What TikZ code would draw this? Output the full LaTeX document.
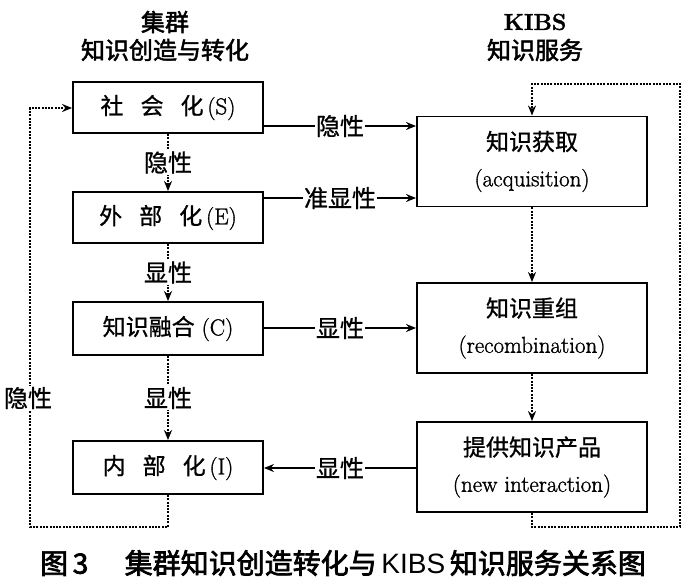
\documentclass[tikz,border=0pt]{standalone}
\usepackage{fontspec}
\setmainfont{Latin Modern Roman}[FakeBold=1.3]
\newfontfamily\cjk[FakeBold=0.9]{Noto Sans CJK SC}
\newfontfamily\cjkb[FakeBold=2]{Noto Sans CJK SC}
\newfontfamily\cjkbb[FakeBold=2.5]{Noto Sans CJK SC}
\newfontfamily\capsans{Liberation Sans}
\usetikzlibrary{arrows.meta}
\newcommand{\zh}[1]{{\cjk #1}}
\newcommand{\gap}{\hspace{17pt}}
\begin{document}
\begin{tikzpicture}[x=1pt,y=-1pt,
  box/.style={draw,line width=1.9pt,minimum width=190pt,minimum height=51pt,inner sep=0pt,font=\fontsize{23}{26}\selectfont},
  rbox/.style={draw,line width=1.9pt,minimum width=230pt,minimum height=90pt,inner sep=0pt,align=center,font=\fontsize{23}{36}\selectfont},
  solidarr/.style={line width=1.5pt,-{Stealth[length=10pt,width=8pt]}},
  dotarr/.style={line width=2.4pt,dash pattern=on 2pt off 1.3pt,-{Stealth[length=10pt,width=8pt]}},
  lab/.style={fill=white,inner sep=1pt,font=\fontsize{24}{26}\selectfont\cjk},
  ttl/.style={font=\fontsize{24}{26}\selectfont\cjkb}]
\useasboundingbox (0,0) rectangle (700,583);
\fill[white] (0,0) rectangle (700,583);
% titles
\node[ttl] (t1) at (165,22) {集群};
\node[ttl] (t2) at (165,50) {知识创造与转化};
\node[font=\fontsize{23}{26}\selectfont\bfseries] (t3) at (535,22) {KIBS};
\node[ttl] (t4) at (535,50) {知识服务};
% left boxes
\node[box] (S) at (168,107.5) {\zh{社\gap 会\gap 化}\,(S)};
\node[box] (E) at (168,217.5) {\zh{外\gap 部\gap 化}\,(E)};
\node[box,minimum height=53pt] (C) at (168,328.5) {\zh{知识融合}\ (C)};
\node[box,minimum height=53pt] (I) at (168,467.5) {\zh{内\gap 部\gap 化}\,(I)};
% right boxes
\node[rbox] (A) at (532,161.5) {\zh{知识获取}\\(acquisition)};
\node[rbox] (R) at (532,328) {\zh{知识重组}\\(recombination)};
\node[rbox] (P) at (532,467) {\zh{提供知识产品}\\(new interaction)};
% horizontal arrows
\draw[solidarr] (S.east |- 0,126) -- node[lab] {隐性} (A.west |- 0,126);
\draw[solidarr] (E.east |- 0,198) -- node[lab] {准显性} (A.west |- 0,198);
\draw[solidarr] (C.east |- 0,328) -- node[lab] {显性} (R.west |- 0,328);
\draw[solidarr] (P.west |- 0,468) -- node[lab] {显性} (I.east |- 0,468);
% vertical dotted arrows
\draw[dotarr] (S.south) -- node[lab] {隐性} (E.north);
\draw[dotarr] (E.south) -- node[lab] {显性} (C.north);
\draw[dotarr] (C.south) -- node[lab] {显性} (I.north);
\draw[dotarr] (A.south) -- (R.north);
\draw[dotarr] (R.south) -- (P.north);
% loops
\coordinate (l1) at (168,527);
\coordinate (l2) at (30,527);
\coordinate (l3) at (30,108);
\draw[dotarr] (I.south) -- (l1) -- (l2) -- (l3) -- (S.west |- l3);
\node[lab] (hx) at (28,398) {隐性};
\coordinate (r1) at (532,527);
\coordinate (r2) at (680,527);
\coordinate (r3) at (680,84);
\coordinate (r4) at (532,84);
\draw[dotarr] (P.south) -- (r1) -- (r2) -- (r3) -- (r4) -- (A.north);
% caption
\node[font=\fontsize{28}{30}\selectfont\cjkbb] (cap) at (343,563) {图\,3\hspace{1.3em}集群知识创造转化与\,{\capsans KIBS}\,知识服务关系图};
\end{tikzpicture}
\end{document}
